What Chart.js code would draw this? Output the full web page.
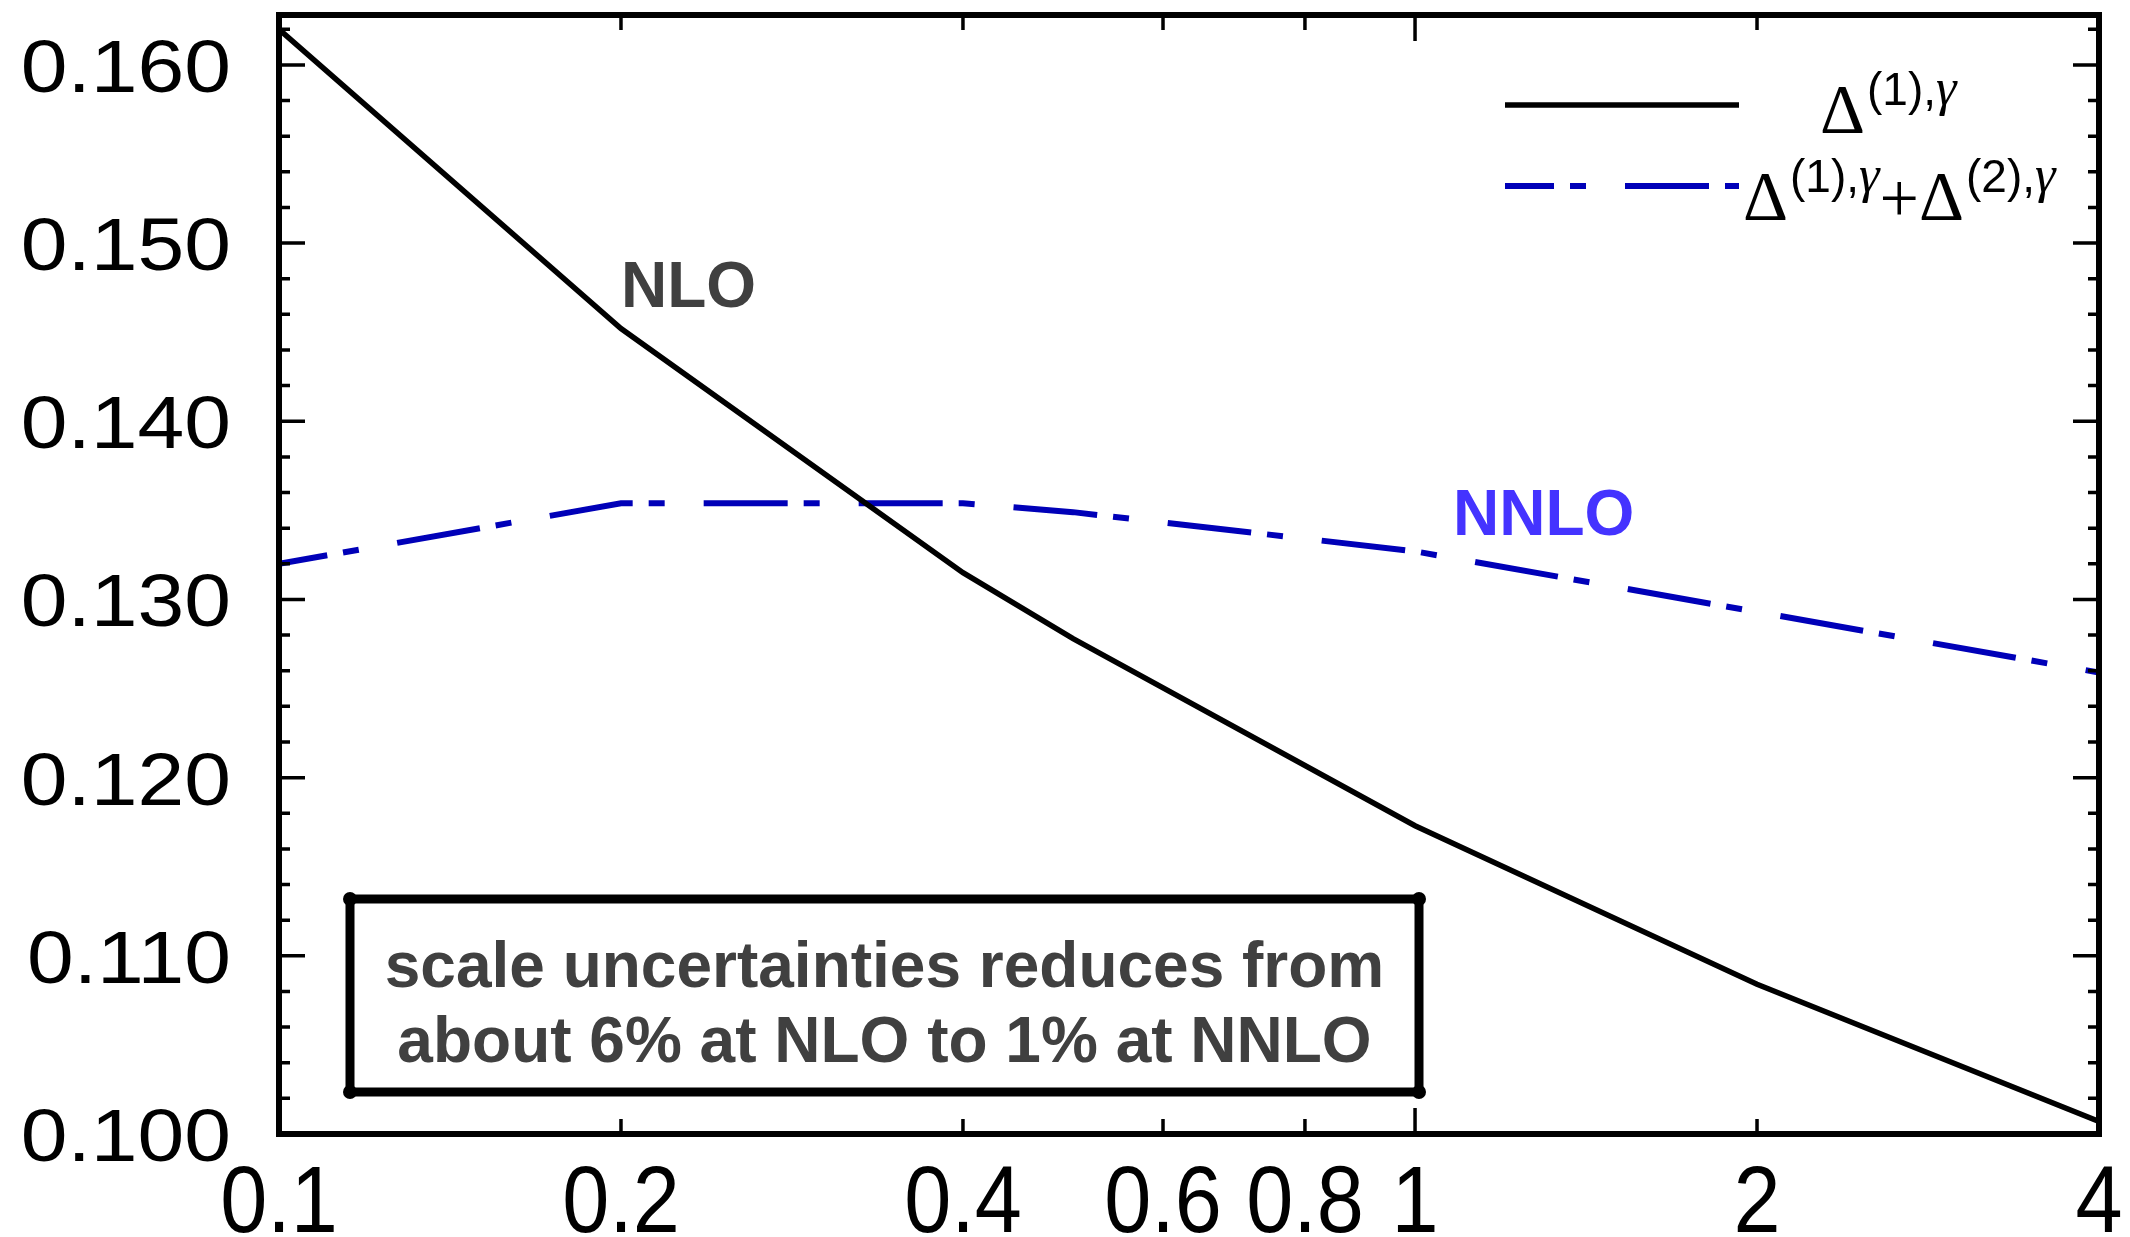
<!DOCTYPE html>
<html>
<head>
<meta charset="utf-8">
<script src="https://cdn.jsdelivr.net/npm/chart.js@4.4.1/dist/chart.umd.min.js"></script>
<style>
  html, body { margin: 0; padding: 0; background: #fff; }
  #wrap { width: 2130px; height: 1237px; }
</style>
</head>
<body>
<div id="wrap"><canvas id="grafico"></canvas></div>
<script>
// values
const mu = [0.1, 0.2, 0.4, 0.5, 1, 2, 4];
const nlo = [0.1620, 0.1452, 0.1315, 0.1278, 0.1173, 0.1084, 0.1007];
const nnlo = [0.1320, 0.1354, 0.1354, 0.1349, 0.1327, 0.1293, 0.1259];

const xTicks = [0.1, 0.2, 0.4, 0.6, 0.8, 1, 2, 4];
const xTickLabels = ['0.1', '0.2', '0.4', '0.6', '0.8', '1', '2', '4'];
const yTicks = [0.100, 0.110, 0.120, 0.130, 0.140, 0.150, 0.160];
const yTickLabels = ['0.100', '0.110', '0.120', '0.130', '0.140', '0.150', '0.160'];

const boxLines = ['scale uncertainties reduces from', 'about 6% at NLO to 1% at NNLO'];

const ctx = document.getElementById('grafico');

// text squeezed or stretched sideways, like the original fonts
function squeezed(c, text, px, py, sx) {
    c.save();
    c.translate(px, py);
    c.scale(sx, 1);
    c.fillText(text, 0, 0);
    c.restore();
}

// frame, inward ticks, tick labels, legend and notes
const extras = {
    id: 'extras',
    afterDraw(chart) {
        const c = chart.ctx;
        const a = chart.chartArea;
        const x = chart.scales.x;
        const y = chart.scales.y;
        c.save();
        c.strokeStyle = '#000';
        c.lineWidth = 3.5;

        // y ticks, minor every 0.002
        for (let i = 0; i <= 31; i++) {
            const py = y.getPixelForValue(0.1 + i * 0.002);
            const len = i % 5 === 0 ? 26 : 11;
            c.beginPath();
            c.moveTo(a.left, py); c.lineTo(a.left + len, py);
            c.moveTo(a.right, py); c.lineTo(a.right - len, py);
            c.stroke();
        }
        // x ticks
        xTicks.forEach(v => {
            const px = x.getPixelForValue(v);
            const len = v === 1 ? 26 : 15;
            c.beginPath();
            c.moveTo(px, a.bottom); c.lineTo(px, a.bottom - len);
            c.moveTo(px, a.top); c.lineTo(px, a.top + len);
            c.stroke();
        });

        c.lineWidth = 6;
        c.strokeRect(a.left, a.top, a.right - a.left, a.bottom - a.top);

        // tick labels
        c.fillStyle = '#000';
        c.textBaseline = 'alphabetic';
        c.font = '75px "Liberation Sans"';
        c.textAlign = 'right';
        yTicks.forEach((v, i) => squeezed(c, yTickLabels[i], a.left - 48, y.getPixelForValue(v) + 27, 1.12));
        c.font = '94px "Liberation Sans"';
        c.textAlign = 'center';
        xTicks.forEach((v, i) => squeezed(c, xTickLabels[i], x.getPixelForValue(v), a.bottom + 98, 0.9));

        // legend
        const ds = chart.data.datasets;
        const lx1 = a.right - 594, lx2 = a.right - 360;
        [[105, 0, 0], [186, 1, 35]].forEach(([ly, k, off]) => {
            c.beginPath();
            c.strokeStyle = ds[k].borderColor;
            c.lineWidth = ds[k].borderWidth;
            c.setLineDash(ds[k].borderDash || []);
            c.lineDashOffset = off;
            c.moveTo(lx1, ly); c.lineTo(lx2, ly);
            c.stroke();
        });
        c.setLineDash([]);

        c.textAlign = 'left';
        function delta(px, base, n) {
            c.font = '70px "Liberation Serif"';
            c.fillText('\u0394', px, base);
            px += c.measureText('\u0394').width + 2;
            c.font = '46px "Liberation Sans"';
            const s = '(' + n + '),';
            c.fillText(s, px, base - 28);
            px += c.measureText(s).width;
            c.font = 'italic 52px "Liberation Serif"';
            c.fillText('\u03b3', px, base - 28);
            return px + c.measureText('\u03b3').width;
        }
        delta(a.right - 279, 133, 1);
        let px = delta(a.right - 356, 220, 1);
        c.font = '70px "Liberation Serif"';
        c.fillText('+', px, 222);
        px += c.measureText('+').width;
        delta(px, 220, 2);

        // curve labels
        c.font = 'bold 64px "Liberation Sans"';
        c.fillStyle = '#404040';
        c.fillText('NLO', x.getPixelForValue(0.2), y.getPixelForValue(0.1464));
        c.fillStyle = '#4433ff';
        c.fillText('NNLO', x.getPixelForValue(1.08), y.getPixelForValue(0.1336));

        // note box
        const bx1 = 350, by1 = 899, bx2 = 1419, by2 = 1092;
        c.fillStyle = '#fff';
        c.fillRect(bx1, by1, bx2 - bx1, by2 - by1);
        c.strokeStyle = '#000';
        c.lineWidth = 9;
        c.strokeRect(bx1, by1, bx2 - bx1, by2 - by1);
        c.fillStyle = '#000';
        [[bx1, by1], [bx2, by1], [bx1, by2], [bx2, by2]].forEach(([cx, cy]) => {
            c.beginPath(); c.arc(cx, cy, 7, 0, Math.PI * 2); c.fill();
        });
        c.fillStyle = '#404040';
        c.textAlign = 'center';
        c.font = 'bold 64px "Liberation Sans"';
        c.fillText(boxLines[0], (bx1 + bx2) / 2, 987);
        c.fillText(boxLines[1], (bx1 + bx2) / 2, 1062);
        c.restore();
    }
};

new Chart(ctx, {
    type: 'line',

    data: {
        labels: mu,

        datasets: [{
            label: 'NLO',
            data: mu.map((m, i) => ({ x: m, y: nlo[i] })),
            borderColor: '#000000',
            borderWidth: 5.5,
            pointRadius: 0,
            fill: false,
            tension: 0
        }, {
            label: 'NNLO',
            data: mu.map((m, i) => ({ x: m, y: nnlo[i] })),
            borderColor: '#0000b8',
            borderWidth: 6,
            borderDash: [84, 16, 16, 39],
            borderDashOffset: 35,
            pointRadius: 0,
            fill: false,
            tension: 0
        }]
    },

    options: {
        responsive: true,
        maintainAspectRatio: false,
        animation: false,
        layout: {
            padding: { top: 15, right: 31, left: 0, bottom: 0 }
        },

        plugins: {
            legend: { display: false },
            tooltip: { enabled: false }
        },

        scales: {
            x: {
                type: 'logarithmic',
                min: 0.1,
                max: 4,
                grid: { display: false, drawTicks: false },
                border: { display: false },
                afterBuildTicks: s => { s.ticks = xTicks.map(v => ({ value: v })); },
                afterFit: s => { s.height = 103; s.paddingLeft = 0; s.paddingRight = 0; },
                ticks: { display: false }
            },
            y: {
                min: 0.100,
                max: 0.1628,
                grid: { display: false, drawTicks: false },
                border: { display: false },
                afterBuildTicks: s => { s.ticks = yTicks.map(v => ({ value: v })); },
                afterFit: s => { s.width = 279; s.paddingTop = 0; s.paddingBottom = 0; },
                ticks: { display: false }
            }
        }
    },

    plugins: [extras]
});
</script>
</body>
</html>
